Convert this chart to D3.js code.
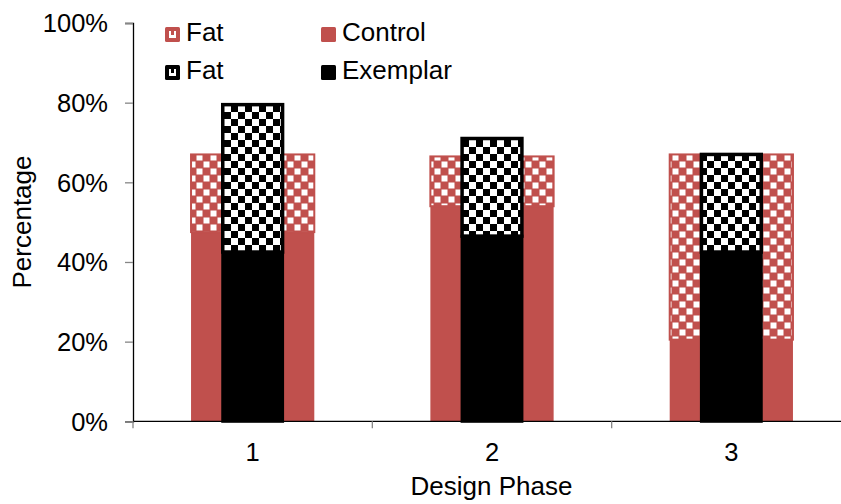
<!DOCTYPE html>
<html>
<head>
<meta charset="utf-8">
<script src="https://cdn.jsdelivr.net/npm/d3@7"></script>
<style>
  body { margin: 0; background: #fff; }
  svg { display: block; }
  text { font-family: "Liberation Sans", Arial, sans-serif; fill: #000; }
</style>
</head>
<body>
<svg id="chart" width="841" height="504"></svg>
<script>
// ---- data ----
const categories = ["1", "2", "3"];
const controlSolid = [0.475, 0.54, 0.205];
const controlFat = [0.195, 0.125, 0.465];
const exemplarSolid = [0.425, 0.465, 0.425];
const exemplarFat = [0.37, 0.245, 0.245];
const yTicks = [0, 0.2, 0.4, 0.6, 0.8, 1.0];
const legendLabels = ["Fat", "Control", "Fat", "Exemplar"];

const RED = "#C0504D";
const svg = d3.select("#chart");

const x = d3.scaleBand().domain(categories).range([133, 851]).paddingInner(0).paddingOuter(0);
const y = d3.scaleLinear().domain([0, 1]).range([421.3, 23]);

// ---- patterns ----
const defs = svg.append("defs");
const c = 7;
const pr = defs.append("pattern").attr("id", "redCheck").attr("patternUnits", "userSpaceOnUse")
  .attr("width", 2 * c).attr("height", 2 * c);
pr.append("rect").attr("width", 2 * c).attr("height", 2 * c).attr("fill", RED);
pr.append("rect").attr("x", 0.5).attr("y", 0.5).attr("width", c - 1).attr("height", c - 1).attr("fill", "#fff");
pr.append("rect").attr("x", c + 0.5).attr("y", c + 0.5).attr("width", c - 1).attr("height", c - 1).attr("fill", "#fff");

const pb = defs.append("pattern").attr("id", "blackCheck").attr("patternUnits", "userSpaceOnUse")
  .attr("width", 2 * c).attr("height", 2 * c);
pb.append("rect").attr("width", 2 * c).attr("height", 2 * c).attr("fill", "#fff");
pb.append("rect").attr("x", 0).attr("y", 0).attr("width", c).attr("height", c).attr("fill", "#000");
pb.append("rect").attr("x", c).attr("y", c).attr("width", c).attr("height", c).attr("fill", "#000");

// ---- bars ----
const redW = x.step() * 0.515;
const blackW = x.step() * 0.25;
const idx = categories.map((d, i) => i);

const gRed = svg.append("g");
gRed.selectAll("rect.cs").data(idx).join("rect")
  .attr("x", i => x(categories[i]) + x.bandwidth() / 2 - redW / 2)
  .attr("width", redW)
  .attr("y", i => y(controlSolid[i]))
  .attr("height", i => y(0) - y(controlSolid[i]))
  .attr("fill", RED);
gRed.selectAll("rect.cf").data(idx).join("rect")
  .attr("x", i => x(categories[i]) + x.bandwidth() / 2 - redW / 2)
  .attr("width", redW)
  .attr("y", i => y(controlSolid[i] + controlFat[i]))
  .attr("height", i => y(controlSolid[i]) - y(controlSolid[i] + controlFat[i]))
  .attr("fill", "url(#redCheck)")
  .attr("stroke", RED).attr("stroke-width", 2);

const gBlack = svg.append("g");
gBlack.selectAll("rect.es").data(idx).join("rect")
  .attr("x", i => x(categories[i]) + x.bandwidth() / 2 - blackW / 2)
  .attr("width", blackW)
  .attr("y", i => y(exemplarSolid[i]))
  .attr("height", i => y(0) - y(exemplarSolid[i]))
  .attr("fill", "#000").attr("stroke", "#000").attr("stroke-width", 3);
gBlack.selectAll("rect.ef").data(idx).join("rect")
  .attr("x", i => x(categories[i]) + x.bandwidth() / 2 - blackW / 2)
  .attr("width", blackW)
  .attr("y", i => y(exemplarSolid[i] + exemplarFat[i]))
  .attr("height", i => y(exemplarSolid[i]) - y(exemplarSolid[i] + exemplarFat[i]))
  .attr("fill", "url(#blackCheck)")
  .attr("stroke", "#000").attr("stroke-width", 3.5);

// ---- axes ----
const yAxis = d3.axisLeft(y).tickValues(yTicks).tickSize(8).tickPadding(17)
  .tickFormat(d3.format(".0%"));
const gy = svg.append("g").attr("transform", "translate(133,0)").call(yAxis);
gy.select(".domain").attr("stroke", "#000").attr("stroke-width", 1.3);
gy.selectAll(".tick line").attr("stroke", "#868686").attr("stroke-width", 1.3);
gy.selectAll(".tick text").attr("font-size", 25.5).attr("font-family", "Liberation Sans, Arial, sans-serif").attr("dy", "0.35em");

// x axis line and boundary ticks
svg.append("line").attr("x1", 133).attr("x2", 841).attr("y1", y(0)).attr("y2", y(0))
  .attr("stroke", "#000").attr("stroke-width", 1.3);
const bounds = categories.map(cc => x(cc)).concat([x.range()[1]]);
svg.append("g").selectAll("line").data(bounds).join("line")
  .attr("x1", d => d).attr("x2", d => d).attr("y1", y(0)).attr("y2", y(0) + 7)
  .attr("stroke", "#868686").attr("stroke-width", 1.3);
svg.append("g").selectAll("text").data(categories).join("text")
  .attr("x", d => x(d) + x.bandwidth() / 2).attr("y", 461)
  .attr("text-anchor", "middle").attr("font-size", 25.5).text(d => d);

svg.append("text").attr("x", 491.5).attr("y", 495).attr("text-anchor", "middle")
  .attr("font-size", 26).text("Design Phase");
svg.append("text").attr("transform", "translate(31,222) rotate(-90)").attr("text-anchor", "middle")
  .attr("font-size", 26).text("Percentage");

// ---- legend ----
const legend = [
  { x: 165, y: 27, kind: "redFat", label: legendLabels[0] },
  { x: 321, y: 27, kind: "red", label: legendLabels[1] },
  { x: 165, y: 65, kind: "blackFat", label: legendLabels[2] },
  { x: 321, y: 65, kind: "black", label: legendLabels[3] }
];
const lg = svg.append("g");
legend.forEach(L => {
  const col = (L.kind === "red" || L.kind === "redFat") ? RED : "#000";
  lg.append("rect").attr("x", L.x).attr("y", L.y).attr("width", 15).attr("height", 15)
    .attr("rx", 1.5).attr("fill", col);
  if (L.kind.endsWith("Fat")) {
    lg.append("rect").attr("x", L.x + 4).attr("y", L.y + 4).attr("width", 7).attr("height", 7).attr("fill", "#fff");
    lg.append("rect").attr("x", L.x + 6).attr("y", L.y + 4).attr("width", 3).attr("height", 4).attr("fill", col);
  }
  lg.append("text").attr("x", L.x + 21).attr("y", L.y + 14).attr("font-size", 26).text(L.label);
});
</script>
</body>
</html>
